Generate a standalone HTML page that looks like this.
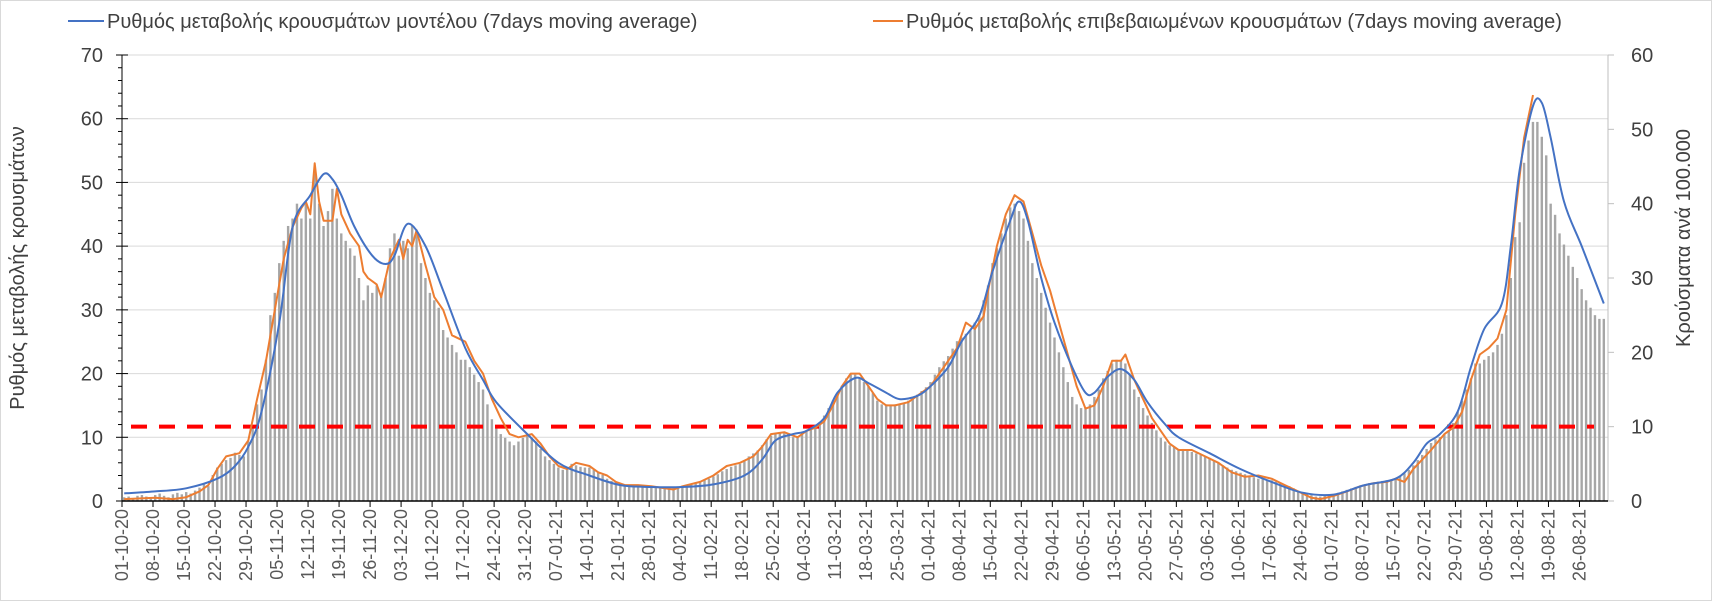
<!DOCTYPE html>
<html><head><meta charset="utf-8">
<style>
html,body{margin:0;padding:0;background:#fff;}
svg{display:block;font-family:"Liberation Sans",sans-serif;}
</style></head>
<body>
<svg id="chart" width="1712" height="601" viewBox="0 0 1712 601">
<rect x="0.5" y="0.5" width="1711" height="600" fill="#fff" stroke="#d9d9d9"/>
<g>
  <line x1="68" y1="21" x2="104" y2="21" stroke="#4472c4" stroke-width="2"/>
  <text x="107" y="28" font-size="20" fill="#404040">Ρυθμός μεταβολής κρουσμάτων μοντέλου (7days moving average)</text>
  <line x1="873" y1="21" x2="903" y2="21" stroke="#ed7d31" stroke-width="2"/>
  <text x="906" y="28" font-size="20" fill="#404040">Ρυθμός μεταβολής επιβεβαιωμένων κρουσμάτων (7days moving average)</text>
</g>
<text transform="translate(24,268) rotate(-90)" text-anchor="middle" font-size="20" fill="#404040">Ρυθμός μεταβολής κρουσμάτων</text>
<text transform="translate(1690,238) rotate(-90)" text-anchor="middle" font-size="20" fill="#404040">Κρούσματα ανά 100.000</text>
<g id="grid"></g><g id="bars"></g><g id="lines"></g><g id="axes"></g>
</svg>
<script>
const dateLabels=["01-10-20","08-10-20","15-10-20","22-10-20","29-10-20","05-11-20","12-11-20","19-11-20","26-11-20","03-12-20","10-12-20","17-12-20","24-12-20","31-12-20","07-01-21","14-01-21","21-01-21","28-01-21","04-02-21","11-02-21","18-02-21","25-02-21","04-03-21","11-03-21","18-03-21","25-03-21","01-04-21","08-04-21","15-04-21","22-04-21","29-04-21","06-05-21","13-05-21","20-05-21","27-05-21","03-06-21","10-06-21","17-06-21","24-06-21","01-07-21","08-07-21","15-07-21","22-07-21","29-07-21","05-08-21","12-08-21","19-08-21","26-08-21"];
const leftTicks=[0,10,20,30,40,50,60,70];
const rightTicks=[0,10,20,30,40,50,60];
const threshold=10;
const casesPer100k=[
0.5,0.6,0.4,0.7,0.8,0.6,0.5, 0.8,1.0,0.7,0.5,0.9,1.1,0.9, 1.2,1.0,1.4,1.8,2.3,2.0,3.5, 4.5,5.0,5.5,5.8,6.5,6.2,6.0,
8,10,13,15,19,25,28, 32,35,37,38,40,38,40, 38,44,40,37,39,42,38, 36,35,34,33,30,27,29,
28,29,28,30,34,36,33, 35,34,37,36,32,30,28, 27,26,23,22,21,20,19, 19,18,17,16,15,13,11,
10,9,8.5,8,7.5,8,8.5, 9,8.5,8,7,6,5.5,5, 4.5,4.2,4.5,5,4.8,4.6,4.5, 4.5,4.2,3.8,3.5,3,2.7,2.5,
2.3,2.2,2.1,2,2.1,2,2, 2,1.9,1.8,1.7,1.6,1.8,1.9, 2,2.1,2.3,2.5,2.6,2.9,3, 3.3,3.6,4,4.3,4.6,4.8,5,
5.5,6,6.4,6.8,7.5,8.3,8.8, 9,9.2,9.1,8.8,8.6,8.5,9, 9.5,9.8,10,10.5,11.5,12.5,13.5, 14.5,15.5,16.5,17,17,16.5,16,
15.5,14.5,13.5,13,13,12.8,13, 13,13.2,13.5,14,14.3,14.8,15.3, 16,17,18,18.8,19.5,20.5,21.5, 22,22.5,23,24,25,27,29,
32,34,36,38,39.5,40,39, 38,35,32,30,28,26,24, 22,20,18,16,14,13,12.5, 12.5,13,14,15,16.5,17.5,18.5,
19,19,18.5,17,15,14,12.5, 11.5,10.5,9.5,8.5,8,7.5,7.3, 7,7,6.8,6.6,6.4,6.2,6, 5.8,5.5,5.2,4.8,4.5,4.2,4,
3.8,3.6,3.4,3.2,3,3,2.9, 2.8,2.6,2.4,2.2,2,1.7,1.4, 1.2,1,0.8,0.6,0.6,0.7,0.8, 0.9,1.1,1.3,1.5,1.7,1.9,2.1,
2.2,2.4,2.5,2.6,2.7,2.8,2.9, 3,3.3,3.7,4.2,4.8,5.5,6.2, 7,7.8,8.3,8.6,9,9.5,10.5, 12,13.5,15,16.5,18.5,18.5,19,
19.5,20,21,22.5,25,30,35.5, 37.5,45.5,48.5,51,51,49,46.5, 40,38.5,36,34.5,33,31.5,30, 28.5,27,26,25,24.5,24.5];
const modelDates=["10-01","10-08","10-15","10-22","10-26","10-29","11-01","11-05","11-08","11-12","11-15","11-17","11-19","11-22","11-26","11-29","12-01","12-04","12-08","12-12","12-17","12-21","12-24","12-31","01-07","01-14","01-21","01-28","02-04","02-11","02-18","02-22","02-25","03-01","03-04","03-08","03-11","03-15","03-18","03-22","03-25","03-29","04-01","04-05","04-08","04-12","04-15","04-19","04-21","04-23","04-26","04-29","05-03","05-06","05-08","05-11","05-14","05-17","05-20","05-24","05-27","06-03","06-10","06-17","06-24","07-01","07-08","07-15","07-19","07-22","07-25","07-29","08-01","08-04","08-08","08-10","08-12","08-15","08-17","08-19","08-22","08-26","08-31"];
const modelValues=[1.2,1.5,2.0,3.5,5.5,8.5,14,28,43,48,51.3,50.5,48,43,38.5,37.2,38.5,43.5,40,33,24,19,15.5,10.5,6,4,2.5,2.2,2.2,2.6,4,6.5,9.5,10.5,11,13,17,19.3,18.5,17,16,16.5,18,21,25,29,36,44,47,44,35,28,21,17,17,19.5,20.7,19,15.5,12,10,7.5,5,3,1.3,1.0,2.5,3.5,6,9,10.5,14,21,27,31,40,52,62,62.5,57,47,40,31];
const confDates=["10-01","10-08","10-12","10-15","10-18","10-20","10-22","10-24","10-27","10-29","10-31","11-02","11-04","11-06","11-08","11-10","11-11","11-12","11-13","11-14","11-15","11-17","11-18","11-19","11-21","11-23","11-24","11-25","11-27","11-28","11-30","12-02","12-03","12-04","12-05","12-06","12-08","12-10","12-12","12-14","12-17","12-19","12-21","12-23","12-25","12-27","12-29","01-01","01-03","01-05","01-07","01-09","01-11","01-14","01-16","01-18","01-20","01-22","01-25","01-28","01-31","02-02","02-04","02-08","02-11","02-14","02-17","02-20","02-22","02-24","02-27","03-02","03-04","03-06","03-08","03-10","03-12","03-14","03-16","03-18","03-20","03-22","03-24","03-27","03-30","04-01","04-03","04-05","04-07","04-09","04-11","04-13","04-14","04-16","04-18","04-20","04-22","04-24","04-26","04-28","04-30","05-02","05-04","05-06","05-08","05-10","05-12","05-14","05-15","05-17","05-19","05-21","05-23","05-25","05-27","05-30","06-02","06-05","06-08","06-11","06-14","06-17","06-20","06-23","06-26","06-28","07-01","07-04","07-07","07-10","07-13","07-15","07-17","07-19","07-21","07-23","07-26","07-28","07-30","08-01","08-03","08-05","08-07","08-09","08-11","08-13","08-15"];
const confValues=[0.3,0.5,0.3,0.6,1.5,2.5,5,7,7.5,9.5,16,22,30,38,43,46,47,45,53,47,44,44,49,45,42,40,36,35,34,32,38,41,38,41,40,42.5,37,32,30,26,25,22,20,16,13,10.5,10,10.5,9,7,5.5,5,6,5.5,4.5,4,3,2.5,2.5,2.3,2,1.8,2.3,3,4,5.5,6,7,8.5,10.5,10.8,10,11,11.5,12.5,15,18,20,20,18,16,15,15,15.5,17,18,20,22,24,28,27,29,33,40,45,48,47,42,37,33,28,23,18,14.5,15,18,22,22,23,19,16,13,11,9,8,8,7,6,4.5,3.8,4,3.5,2.5,1.5,0.5,0.3,0.8,1.5,2.3,2.8,3,3.5,3,5,6.5,8,10.5,11.5,14,19,23,24,25.5,30,45,57,63.7];

const NS="http://www.w3.org/2000/svg";
const X0=122,DW=4.43,Y0=501,YT=55,XR=1608;
const monthStart={"10":0,"11":31,"12":61,"01":92,"02":123,"03":151,"04":182,"05":212,"06":243,"07":273,"08":304};
function dayIdx(s){return monthStart[s.slice(0,2)]+parseInt(s.slice(3),10)-1;}
function xDay(d){return X0+d*DW+DW/2;}
function yL(v){return Y0-(v/70)*(Y0-YT);}
function yR(v){return Y0-(v/60)*(Y0-YT);}
function mk(tag,attrs,parent){const e=document.createElementNS(NS,tag);for(const k in attrs)e.setAttribute(k,attrs[k]);parent.appendChild(e);return e;}
const grid=document.getElementById('grid'),bars=document.getElementById('bars'),lines=document.getElementById('lines'),axes=document.getElementById('axes');

leftTicks.forEach(v=>{
  if(v>0){const g=mk('line',{x1:X0,x2:XR,y1:yL(v),y2:yL(v),stroke:'#d9d9d9','stroke-width':1},grid);
  
  }
  const t=mk('text',{x:103,y:yL(v)+7,'text-anchor':'end','font-size':20,fill:'#404040'},axes);
  t.textContent=v;
  
  
  mk('line',{x1:X0-6,x2:X0+6,y1:yL(v),y2:yL(v),stroke:'#000'},axes);
});
for(let v=2;v<70;v+=2){ if(v%10) mk('line',{x1:X0-4,x2:X0,y1:yL(v),y2:yL(v),stroke:'#000'},axes); }
rightTicks.forEach(v=>{
  const t=mk('text',{x:1631,y:yR(v)+7,'font-size':20,fill:'#404040'},axes);
  t.textContent=v;
  
  
  mk('line',{x1:XR,x2:XR+6,y1:yR(v),y2:yR(v),stroke:'#bfbfbf'},axes);
});

casesPer100k.forEach((v,i)=>{
  const h=Y0-yR(v);
  const b=mk('rect',{x:X0+i*DW+1,y:yR(v),width:2.4,height:h,fill:'#a6a6a6'},bars);
  
  
});

const th=mk('line',{x1:131,x2:1594,y1:yR(threshold),y2:yR(threshold),stroke:'#ff0000','stroke-width':4,'stroke-dasharray':'16 12'},lines);



function smoothPath(pts){
  let d='M'+pts[0][0].toFixed(1)+','+pts[0][1].toFixed(1);
  for(let i=0;i<pts.length-1;i++){
    const p0=pts[Math.max(0,i-1)],p1=pts[i],p2=pts[i+1],p3=pts[Math.min(pts.length-1,i+2)];
    const c1x=p1[0]+(p2[0]-p0[0])/6,c1y=p1[1]+(p2[1]-p0[1])/6;
    const c2x=p2[0]-(p3[0]-p1[0])/6,c2y=p2[1]-(p3[1]-p1[1])/6;
    d+=` C${c1x.toFixed(1)},${c1y.toFixed(1)} ${c2x.toFixed(1)},${c2y.toFixed(1)} ${p2[0].toFixed(1)},${p2[1].toFixed(1)}`;
  }
  return d;
}
function drawLine(dates,vals,color,name,smooth){
  const pts=dates.map((d,i)=>[xDay(dayIdx(d)),yL(vals[i])]);
  const d=smooth?smoothPath(pts):'M'+pts.map(p=>p[0].toFixed(1)+','+p[1].toFixed(1)).join(' L');
  const p=mk('path',{d:d,fill:'none',stroke:color,'stroke-width':2,'stroke-linejoin':'round'},lines);
  
  
}
drawLine(confDates,confValues,'#ed7d31','confirmed-rate-line',false);
drawLine(modelDates,modelValues,'#4472c4','model-rate-line',true);

mk('line',{x1:X0,x2:X0,y1:YT,y2:Y0,stroke:'#000'},axes);
mk('line',{x1:XR,x2:XR,y1:YT,y2:Y0,stroke:'#bfbfbf'},axes);
mk('line',{x1:X0,x2:XR,y1:Y0,y2:Y0,stroke:'#000','stroke-width':1.5},axes);
dateLabels.forEach((s,i)=>{
  const x=X0+i*7*DW;
  mk('line',{x1:x,x2:x,y1:Y0,y2:Y0+6,stroke:'#000'},axes);
  const t=mk('text',{transform:`translate(${x+6},509) rotate(-90)`,'text-anchor':'end','font-size':18,fill:'#595959'},axes);
  t.textContent=s;
  
  
});
</script>
</body></html>
